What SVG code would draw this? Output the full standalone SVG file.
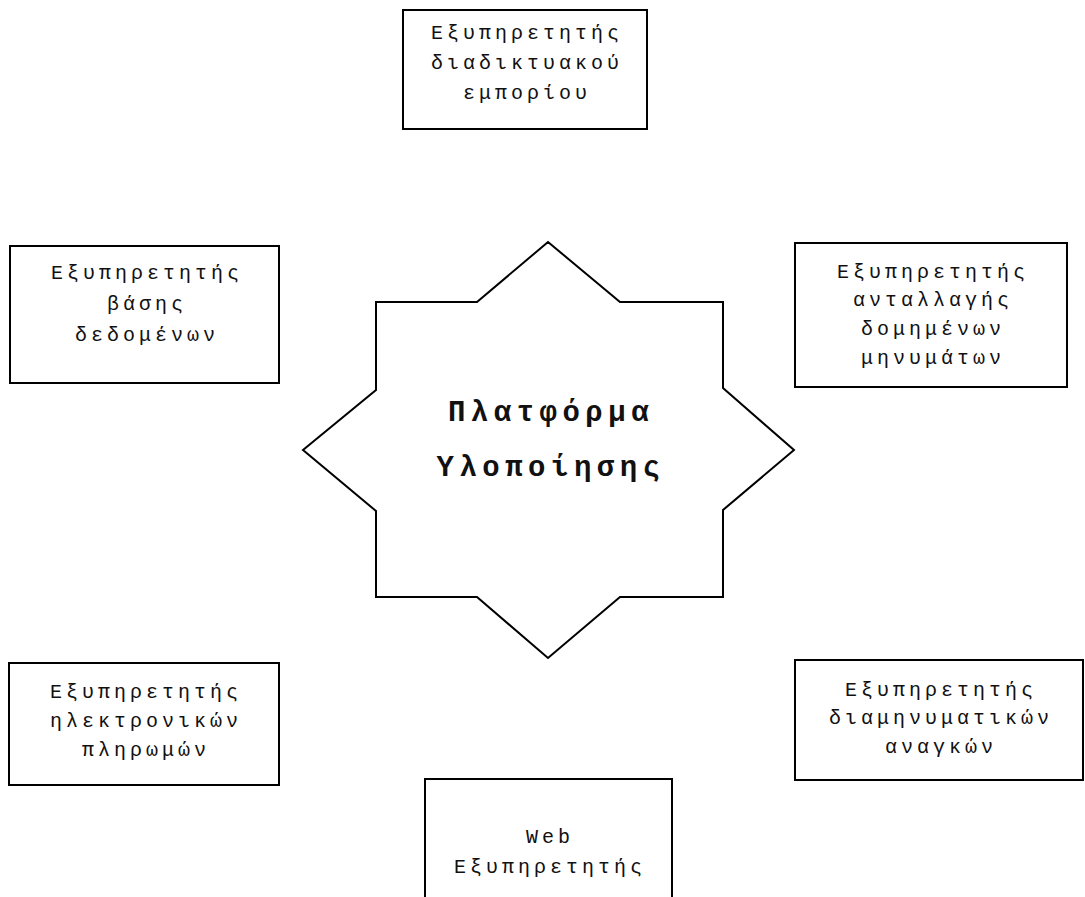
<svg xmlns="http://www.w3.org/2000/svg" width="1085" height="897" viewBox="0 0 1085 897">
<style>
.box{fill:#fff;stroke:#000;stroke-width:2}
.t{font-family:"Liberation Mono","DejaVu Sans Mono",monospace;font-size:20px;letter-spacing:4px;fill:#111;text-anchor:middle}
.c{font-family:"Liberation Mono","DejaVu Sans Mono",monospace;font-size:29px;font-weight:bold;letter-spacing:5.5px;fill:#111;text-anchor:middle}
</style>
<rect width="1085" height="897" fill="#fff"/>
<g id="connectors"/>
<g id="center">
<polygon class="box" points="548,242 620,302 723,302 723,388 794,450 723,510 723,597 620,597 548,658 477,597 376,597 376,511 303,450 376,390 376,302 477,302"/>
<text class="c" x="551" y="421">Πλατφόρμα</text>
<text class="c" x="551" y="476">Υλοποίησης</text>
</g>
<g id="ecommerce">
<rect class="box" x="403" y="10" width="244" height="119"/>
<text class="t" x="527" y="39">Εξυπηρετητής</text>
<text class="t" x="527" y="69">διαδικτυακού</text>
<text class="t" x="527" y="99">εμπορίου</text>
</g>
<g id="database">
<rect class="box" x="10" y="246" width="269" height="137"/>
<text class="t" x="147" y="279">Εξυπηρετητής</text>
<text class="t" x="147" y="310">βάσης</text>
<text class="t" x="147" y="341">δεδομένων</text>
</g>
<g id="messaging">
<rect class="box" x="795" y="243" width="272" height="144"/>
<text class="t" x="933" y="278">Εξυπηρετητής</text>
<text class="t" x="933" y="306">ανταλλαγής</text>
<text class="t" x="933" y="335">δομημένων</text>
<text class="t" x="933" y="364">μηνυμάτων</text>
</g>
<g id="payments">
<rect class="box" x="9" y="663" width="270" height="122"/>
<text class="t" x="146" y="698">Εξυπηρετητής</text>
<text class="t" x="146" y="727">ηλεκτρονικών</text>
<text class="t" x="146" y="756">πληρωμών</text>
</g>
<g id="instant">
<rect class="box" x="795" y="660" width="288" height="120"/>
<text class="t" x="941" y="696">Εξυπηρετητής</text>
<text class="t" x="941" y="724">διαμηνυματικών</text>
<text class="t" x="941" y="753">αναγκών</text>
</g>
<g id="web">
<rect class="box" x="425" y="779" width="247" height="130"/>
<text class="t" x="550" y="843">Web</text>
<text class="t" x="550" y="873">Εξυπηρετητής</text>
</g>
</svg>
